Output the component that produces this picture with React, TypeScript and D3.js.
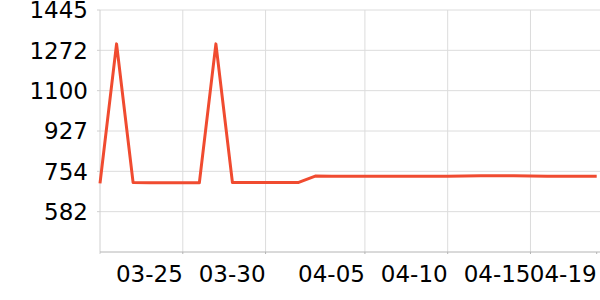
import React from "react";
import * as d3 from "d3";

const dates: string[] = [
  "2024-03-20","2024-03-21","2024-03-22","2024-03-23","2024-03-24","2024-03-25",
  "2024-03-26","2024-03-27","2024-03-28","2024-03-29","2024-03-30","2024-03-31",
  "2024-04-01","2024-04-02","2024-04-03","2024-04-04","2024-04-05","2024-04-06",
  "2024-04-07","2024-04-08","2024-04-09","2024-04-10","2024-04-11","2024-04-12",
  "2024-04-13","2024-04-14","2024-04-15","2024-04-16","2024-04-17","2024-04-18",
  "2024-04-19",
];
const values: number[] = [
  703, 1300, 706, 705, 705, 705, 705, 1300, 706, 706, 706, 706, 707, 734, 733, 733,
  733, 733, 733, 733, 733, 733, 734, 735, 735, 735, 734, 733, 733, 733, 733,
];
const xTickDates: string[] = ["2024-03-25", "2024-03-30", "2024-04-05", "2024-04-10", "2024-04-15", "2024-04-19"];
const yTickValues: number[] = [581.67, 754.33, 927, 1099.67, 1272.33, 1445];
const yDomain: number[] = [409, 1445];

const W = 600, H = 300;
const margin = { left: 100, right: 3.3, top: 10, bottom: 48 };
const font = "'DejaVu Sans', sans-serif";

export default function App() {
  const parse = d3.timeParse("%Y-%m-%d");
  const data = dates.map((d, i) => ({ date: parse(d) as Date, value: values[i] }));
  const x = d3
    .scaleTime()
    .domain(d3.extent(data, (d) => d.date) as [Date, Date])
    .range([margin.left, W - margin.right]);
  const y = d3.scaleLinear().domain(yDomain).range([H - margin.bottom, margin.top]);
  const line = d3
    .line<{ date: Date; value: number }>()
    .x((d) => x(d.date))
    .y((d) => y(d.value));
  const fmt = d3.timeFormat("%m-%d");
  const xTicks = xTickDates.map((s) => parse(s) as Date);
  const lastTick = xTicks[xTicks.length - 1].getTime();
  const y0 = y(yDomain[0]);

  return (
    <svg
      width={W}
      height={H}
      style={{ position: "absolute", left: 0, top: 0, background: "#fff" }}
    >
      {/* horizontal grid */}
      {yTickValues.map((v) => (
        <line key={"hy" + v} x1={margin.left} x2={W} y1={y(v)} y2={y(v)} stroke="#dcdcdc" strokeWidth={1} />
      ))}
      {/* vertical grid */}
      {xTicks
        .filter((t) => t.getTime() !== lastTick)
        .map((t) => (
          <line key={"vx" + t.getTime()} x1={x(t)} x2={x(t)} y1={margin.top} y2={y0} stroke="#dcdcdc" strokeWidth={1} />
        ))}
      {/* y axis line */}
      <line x1={margin.left} x2={margin.left} y1={margin.top} y2={y0 + 2} stroke="#d0d0d0" strokeWidth={1} />
      {yTickValues.map((v) => (
        <line key={"ty" + v} x1={margin.left - 3} x2={margin.left} y1={y(v)} y2={y(v)} stroke="#d0d0d0" strokeWidth={1} />
      ))}
      {/* x axis line */}
      <line x1={margin.left} x2={W} y1={y0} y2={y0} stroke="#b4b4b4" strokeWidth={1} />
      {xTicks.map((t) => (
        <line key={"tx" + t.getTime()} x1={x(t)} x2={x(t)} y1={y0} y2={y0 + 2} stroke="#b4b4b4" strokeWidth={1} />
      ))}
      {/* y labels */}
      {yTickValues.map((v) => (
        <text
          key={"ly" + v}
          x={margin.left - 12}
          y={y(v)}
          dy="0.36em"
          textAnchor="end"
          fontFamily={font}
          fontSize={23}
          fill="#000"
        >
          {Math.round(v)}
        </text>
      ))}
      {/* x labels */}
      {xTicks.map((t) => (
        <text
          key={"lx" + t.getTime()}
          x={x(t)}
          y={282}
          textAnchor="end"
          fontFamily={font}
          fontSize={23}
          fill="#000"
        >
          {fmt(t)}
        </text>
      ))}
      <path d={line(data) || ""} fill="none" stroke="#f04b30" strokeWidth={3} strokeLinejoin="round" />
    </svg>
  );
}
